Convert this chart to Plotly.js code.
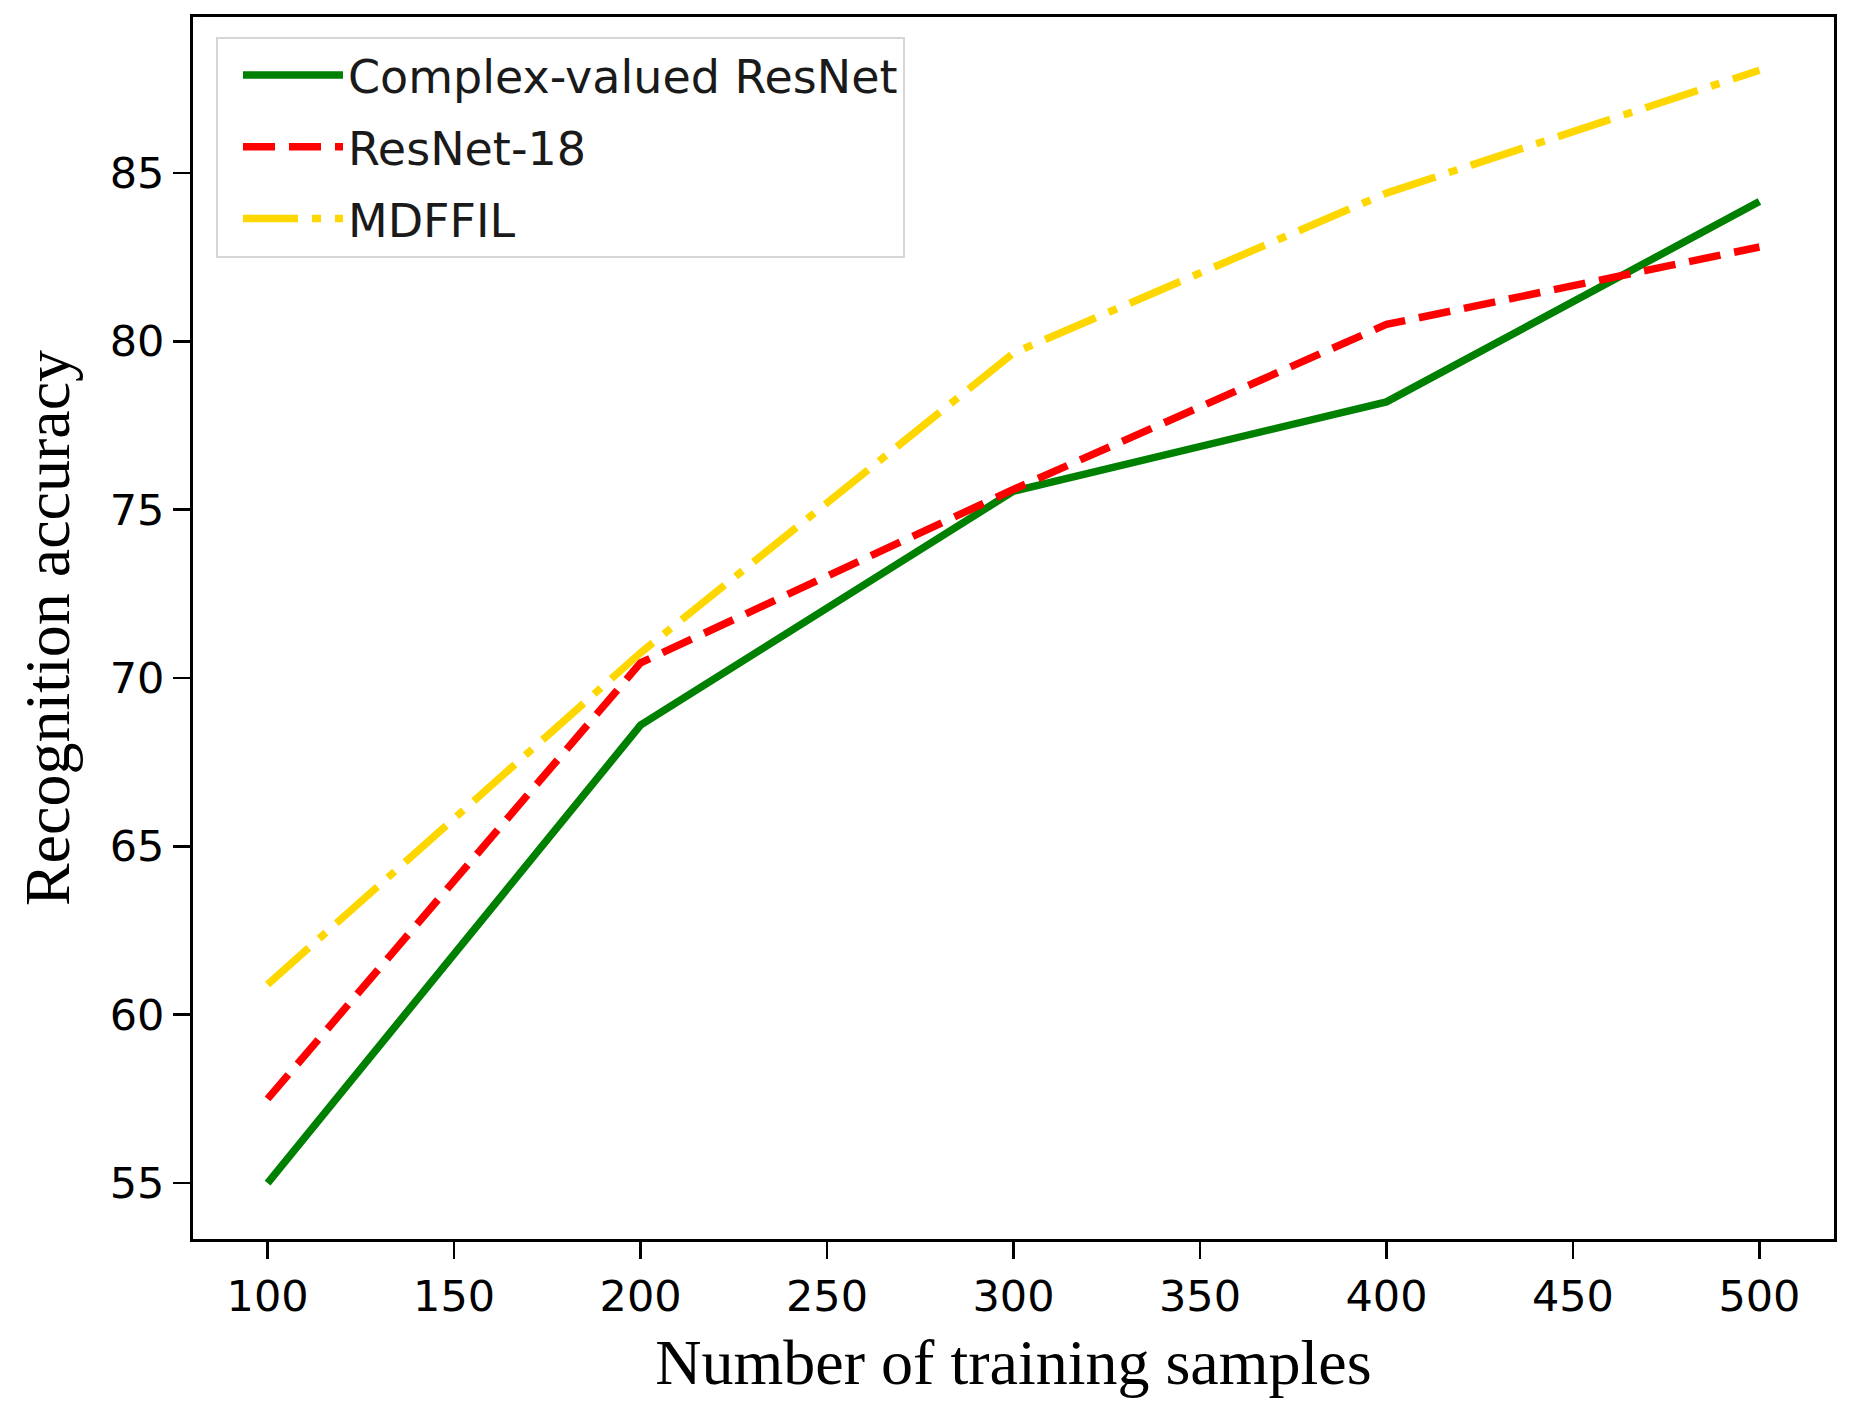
<!DOCTYPE html>
<html>
<head>
<meta charset="utf-8">
<script src="https://cdn.plot.ly/plotly-3.0.1.min.js"></script>
<style>html,body{margin:0;padding:0;background:#fff;}#chart{width:1875px;height:1407px;}</style>
</head>
<body>
<div id="chart"></div>
<script>
const samples = [100, 200, 300, 400, 500];
const complexResNet = [55.0, 68.6, 75.55, 78.2, 84.15];
const resNet18 = [57.5, 70.45, 75.6, 80.5, 82.8];
const mdffil = [60.9, 70.75, 79.65, 84.4, 88.05];
const seriesNames = ['Complex-valued ResNet', 'ResNet-18', 'MDFFIL'];
const xTicks = [100, 150, 200, 250, 300, 350, 400, 450, 500];
const yTicks = [55, 60, 65, 70, 75, 80, 85];

const lw = 7.5;
const traces = [
  {x: samples, y: complexResNet, name: seriesNames[0], mode: 'lines', legendgroup: 'a',
   line: {color: '#008000', width: lw, dash: 'solid'}},
  {x: samples, y: resNet18, name: seriesNames[1], mode: 'lines', legendgroup: 'b',
   line: {color: '#ff0000', width: lw, dash: '32px,14px'}},
  {x: samples, y: mdffil, name: seriesNames[2], mode: 'lines', legendgroup: 'c',
   line: {color: '#ffd700', width: lw, dash: '55px,14px,9px,14px'}}
];

const axisCommon = {
  showgrid: false, zeroline: false, showline: true, mirror: true,
  linecolor: '#000', linewidth: 3, ticks: 'outside', ticklen: 17, tickwidth: 2.5,
  tickcolor: '#000', tickfont: {family: 'DejaVu Sans', size: 43, color: '#000'}
};

const layout = {
  width: 1875, height: 1407,
  paper_bgcolor: '#fff', plot_bgcolor: '#fff',
  margin: {l: 193, r: 41, t: 17, b: 168},
  showlegend: true,
  xaxis: Object.assign({}, axisCommon, {
    range: [80, 520], tickvals: xTicks, ticktext: xTicks.map(String),
    title: {text: 'Number of training samples', standoff: 20,
            font: {family: 'Liberation Serif', size: 64, color: '#000'}}
  }),
  yaxis: Object.assign({}, axisCommon, {
    range: [53.34, 89.63], tickvals: yTicks, ticktext: yTicks.map(String),
    title: {text: 'Recognition accuracy', standoff: 20,
            font: {family: 'Liberation Serif', size: 64, color: '#000'}}
  }),
  legend: {
    x: 0.014, y: 0.984, xanchor: 'left', yanchor: 'top',
    bgcolor: 'rgba(255,255,255,0.8)', bordercolor: '#d6d6d6', borderwidth: 2,
    font: {family: 'DejaVu Sans', size: 46, color: '#1a1a1a'},
    itemwidth: 100, traceorder: 'grouped', tracegroupgap: 9,
    indentation: 20
  }
};

Plotly.newPlot('chart', traces, layout, {displayModeBar: false, staticPlot: true});
</script>
</body>
</html>
